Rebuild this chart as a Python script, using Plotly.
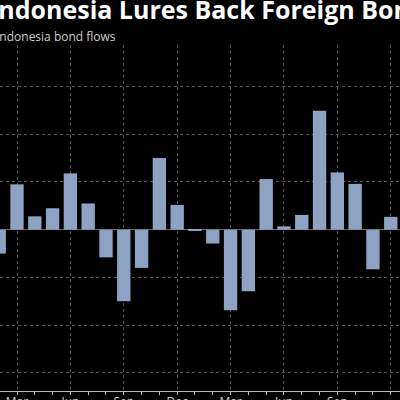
import plotly.graph_objects as go

months = ["Feb","Mar","Apr","May","Jun","Jul","Aug","Sep","Oct","Nov","Dec",
          "Jan","Feb","Mar","Apr","May","Jun","Jul","Aug","Sep","Oct","Nov","Dec"]
flows = [-5.0, 9.5, 2.8, 4.5, 11.8, 5.5, -5.8, -15.0, -8.0, 15.0, 5.2,
         -0.1, -2.9, -16.9, -12.9, 10.6, 0.7, 3.1, 24.9, 12.0, 9.6, -8.3, 2.7]
tick_labels = ["Mar","Jun","Sep","Dec","Mar","Jun","Sep","Dec"]

x = list(range(-1, len(months) - 1))

fig = go.Figure(go.Bar(x=x, y=flows, width=0.75, marker_color="#8ea3c4",
                       marker_line_width=0, hovertext=months))

fig.update_layout(
    width=400, height=400, paper_bgcolor="black", plot_bgcolor="black",
    margin=dict(l=0, r=0, t=45, b=9, autoexpand=False), showlegend=False,
    font=dict(family="Open Sans", color="#cccccc"),
    xaxis=dict(range=[-0.955, 21.52], tickvals=list(range(0, 22, 3)),
               ticktext=tick_labels, ticks="", showgrid=True, gridcolor="#555555",
               griddash="dot", gridwidth=1, showline=True, linecolor="#bbbbbb",
               linewidth=1, tickfont=dict(size=12, color="#cccccc"),
               minor=dict(tickvals=x, ticks="outside", ticklen=3, tickcolor="#bbbbbb",
                          showgrid=False),
               zeroline=False),
    yaxis=dict(range=[-33.8, 38.7], dtick=10, showticklabels=False, showgrid=True,
               gridcolor="#555555", griddash="dot", zeroline=True,
               zerolinecolor="#666666", zerolinewidth=1),
    annotations=[
        dict(text="<b>Indonesia Lures Back Foreign Bonds</b>", xref="paper", yref="paper",
             x=-0.03, y=1, yshift=55, xanchor="left", yanchor="top", showarrow=False,
             font=dict(size=25, color="white", family="Open Sans")),
        dict(text="Indonesia bond flows", xref="paper", yref="paper",
             x=-0.014, y=1, yshift=19, xanchor="left", yanchor="top", showarrow=False,
             font=dict(size=12, color="#cccccc", family="Open Sans")),
    ],
)

fig.write_html("out.html", config={"displayModeBar": False},
               post_script="document.body.style.margin='0';document.body.style.overflow='hidden';")
